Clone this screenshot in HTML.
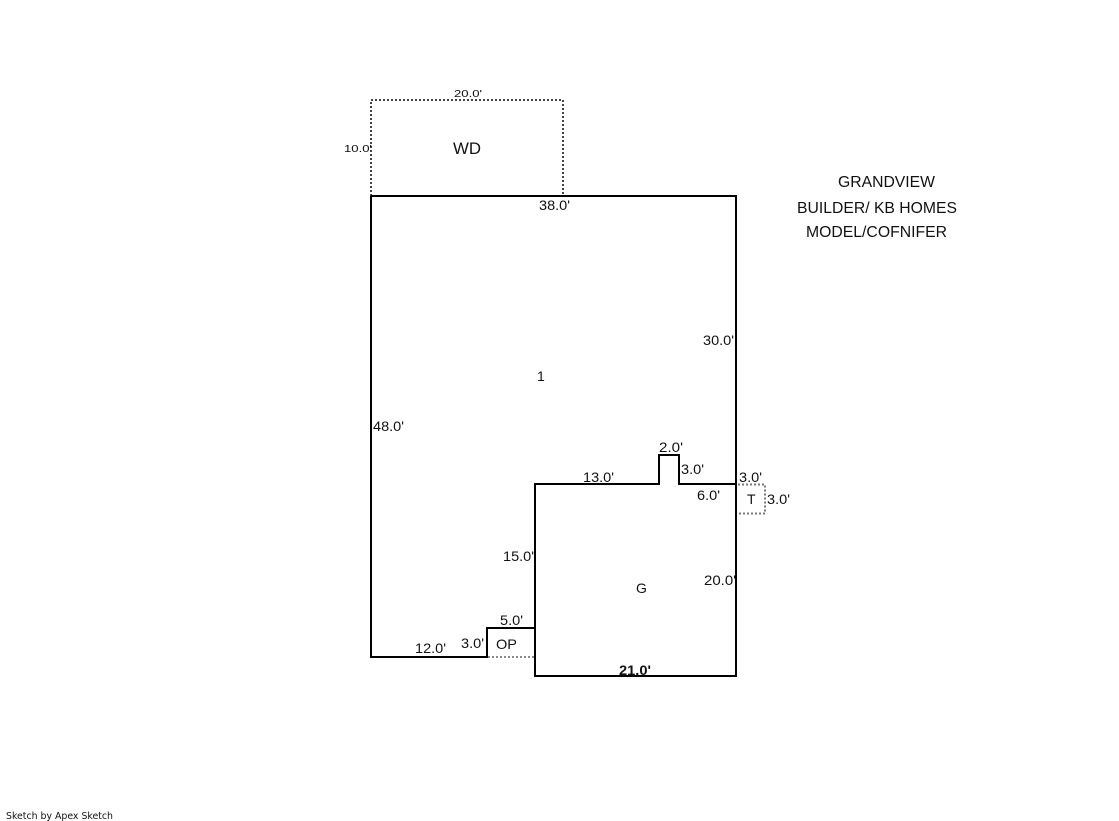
<!DOCTYPE html>
<html>
<head>
<meta charset="utf-8">
<style>
html,body{margin:0;padding:0;background:#fff;width:1119px;height:821px;overflow:hidden}
svg{display:block}
text{font-family:"Liberation Sans",sans-serif;font-size:14px;fill:#111}
</style>
</head>
<body>
<svg width="1119" height="821" viewBox="0 0 1119 821" xmlns="http://www.w3.org/2000/svg">
<g fill="none" stroke-width="2" stroke-dasharray="2 2">
<path d="M371 196V100H563V196" stroke="#444"/>
<path d="M738 484.5H765V513.5H738" stroke="#777"/>
<path d="M488 657H535" stroke="#888"/>
</g>
<path d="M371 196H736V676H535V484H659V455H679V484H736M535 628H487V657H371V196" fill="none" stroke="#000" stroke-width="2"/>
<g>
<text x="454" y="97" style="font-size:10px" textLength="28" lengthAdjust="spacingAndGlyphs">20.0'</text>
<text x="344" y="152" style="font-size:10px" textLength="28" lengthAdjust="spacingAndGlyphs">10.0'</text>
<text x="453" y="154" style="font-size:17px" textLength="28" lengthAdjust="spacingAndGlyphs">WD</text>
<text x="539" y="210" textLength="31" lengthAdjust="spacingAndGlyphs">38.0'</text>
<text x="703" y="345" textLength="31" lengthAdjust="spacingAndGlyphs">30.0'</text>
<text x="537" y="381">1</text>
<text x="373" y="431" textLength="31" lengthAdjust="spacingAndGlyphs">48.0'</text>
<text x="659" y="452" textLength="24" lengthAdjust="spacingAndGlyphs">2.0'</text>
<text x="681" y="474" textLength="23" lengthAdjust="spacingAndGlyphs">3.0'</text>
<text x="739" y="482" textLength="23" lengthAdjust="spacingAndGlyphs">3.0'</text>
<text x="583" y="482" textLength="31" lengthAdjust="spacingAndGlyphs">13.0'</text>
<text x="697" y="500" textLength="23" lengthAdjust="spacingAndGlyphs">6.0'</text>
<text x="747" y="504">T</text>
<text x="767" y="504" textLength="23" lengthAdjust="spacingAndGlyphs">3.0'</text>
<text x="503" y="561" textLength="31" lengthAdjust="spacingAndGlyphs">15.0'</text>
<text x="704" y="585" textLength="32" lengthAdjust="spacingAndGlyphs">20.0'</text>
<text x="636" y="593">G</text>
<text x="500" y="625" textLength="23" lengthAdjust="spacingAndGlyphs">5.0'</text>
<text x="461" y="648" textLength="23" lengthAdjust="spacingAndGlyphs">3.0'</text>
<text x="496" y="649" textLength="21" lengthAdjust="spacingAndGlyphs">OP</text>
<text x="415" y="653" textLength="31" lengthAdjust="spacingAndGlyphs">12.0'</text>
<text x="619" y="675" font-weight="bold" textLength="32" lengthAdjust="spacingAndGlyphs">21.0'</text>
<text x="838" y="187" style="font-size:16px" textLength="97" lengthAdjust="spacingAndGlyphs">GRANDVIEW</text>
<text x="797" y="213" style="font-size:16px" textLength="160" lengthAdjust="spacingAndGlyphs">BUILDER/ KB HOMES</text>
<text x="806" y="237" style="font-size:16px" textLength="141" lengthAdjust="spacingAndGlyphs">MODEL/COFNIFER</text>
<text x="6" y="819" style="font-family:'DejaVu Sans',sans-serif;font-size:10px" textLength="107" lengthAdjust="spacingAndGlyphs">Sketch by Apex Sketch</text>
</g>
</svg>
</body>
</html>
